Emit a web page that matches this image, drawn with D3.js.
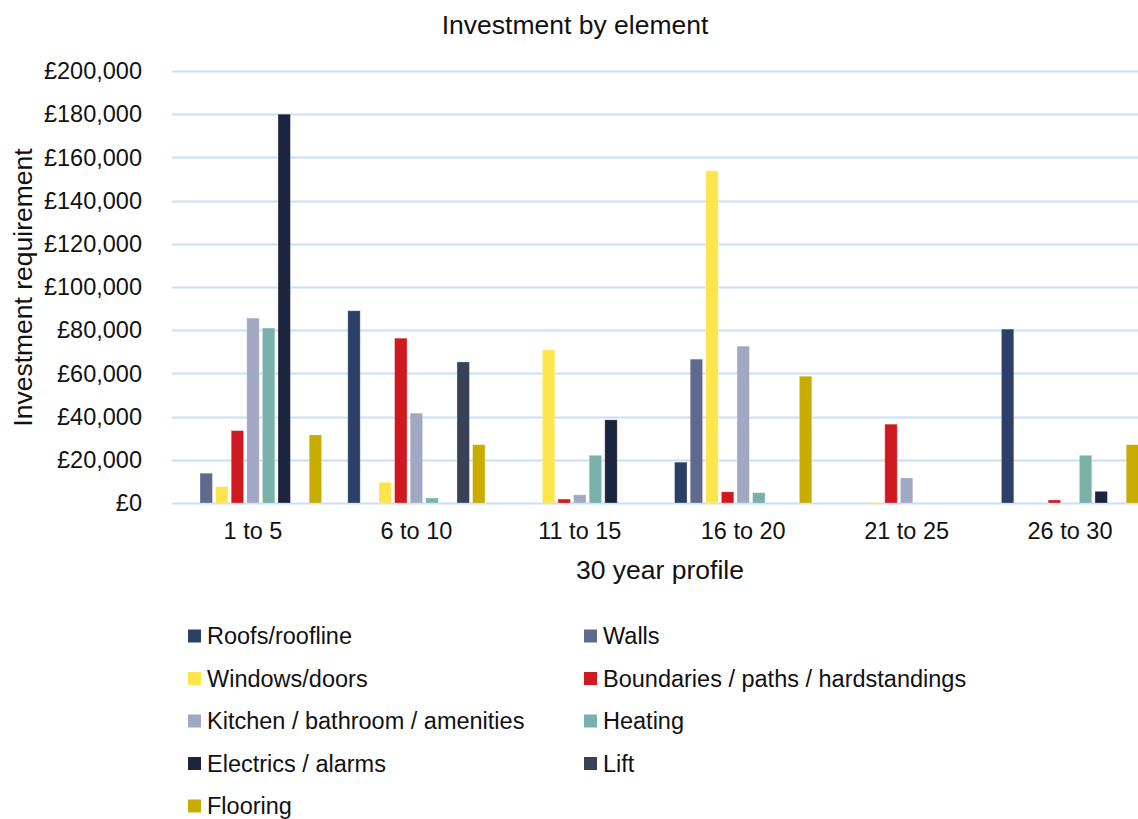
<!DOCTYPE html>
<html>
<head>
<meta charset="utf-8">
<script src="https://cdn.jsdelivr.net/npm/d3@7"></script>
<style>
  body { margin: 0; background: #fff; }
  svg { display: block; font-family: "Liberation Sans", Arial, sans-serif; }
</style>
</head>
<body>
<div id="content"></div>
<script>
// dimensiones
var width = 1138;
var height = 819;

// datos
var periods = ["1 to 5", "6 to 10", "11 to 15", "16 to 20", "21 to 25", "26 to 30"];
var elements = ["Roofs/roofline", "Walls", "Windows/doors", "Boundaries / paths / hardstandings",
  "Kitchen / bathroom / amenities", "Heating", "Electrics / alarms", "Lift", "Flooring"];
var colours = ["#2c3f67", "#5f6a8d", "#ffe54c", "#d0191f", "#a2a7c3", "#79b2a8", "#1c253f", "#3a4156", "#c8ad00"];

var roofs      = [0, 89000, 0, 18900, 0, 80500];
var walls      = [13800, 0, 0, 66600, 0, 0];
var windows    = [7600, 9600, 70900, 153800, 300, 0];
var boundaries = [33500, 76300, 1800, 5200, 36500, 1400];
var kitchen    = [85600, 41600, 3800, 72600, 11600, 0];
var heating    = [81000, 2300, 22100, 4800, 0, 22100];
var electrics  = [180000, 0, 38500, 0, 0, 5400];
var lift       = [0, 65300, 0, 0, 0, 0];
var flooring   = [31500, 27000, 0, 58700, 0, 27000];

var yTicks = [0, 20000, 40000, 60000, 80000, 100000, 120000, 140000, 160000, 180000, 200000];

var seriesValues = [roofs, walls, windows, boundaries, kitchen, heating, electrics, lift, flooring];

var rows = [];
periods.forEach(function(p, i) {
  elements.forEach(function(e, j) {
    rows.push({ period: p, element: e, value: seriesValues[j][i], colour: colours[j] });
  });
});

var svg = d3.select("#content")
  .append("svg")
  .attr("width", width)
  .attr("height", height);

var x0 = d3.scaleBand()
  .domain(periods)
  .range([171.3, 1151.7])
  .padding(0);

var x1 = d3.scaleBand()
  .domain(elements)
  .range([0, x0.bandwidth()])
  .paddingInner(0.205)
  .paddingOuter(0.84);

var y = d3.scaleLinear()
  .domain([0, 200000])
  .range([503, 71]);

var fmt = function(d) { return "£" + d3.format(",")(d); };

// gridlines
svg.append("g")
  .selectAll("line")
  .data(yTicks)
  .enter().append("line")
  .attr("x1", 172)
  .attr("x2", width)
  .attr("y1", function(d) { return Math.round(y(d)) + 0.5; })
  .attr("y2", function(d) { return Math.round(y(d)) + 0.5; })
  .attr("stroke", "#c6e0f7")
  .attr("stroke-width", 2);

// y tick labels
svg.append("g")
  .selectAll("text")
  .data(yTicks)
  .enter().append("text")
  .attr("x", 142)
  .attr("y", function(d) { return y(d); })
  .attr("dy", "0.35em")
  .attr("text-anchor", "end")
  .style("font-size", "23.5px")
  .style("fill", "#111")
  .text(fmt);

// bars
svg.append("g")
  .selectAll("rect")
  .data(rows.filter(function(d) { return d.value > 0; }))
  .enter().append("rect")
  .attr("x", function(d) { return x0(d.period) + x1(d.element); })
  .attr("width", x1.bandwidth())
  .attr("y", function(d) { return y(d.value); })
  .attr("height", function(d) { return y(0) - y(d.value); })
  .attr("fill", function(d) { return d.colour; })
  .attr("stroke", "#ffffff")
  .attr("stroke-opacity", 0.35)
  .attr("stroke-width", 0.8);

// x tick labels
svg.append("g")
  .selectAll("text")
  .data(periods)
  .enter().append("text")
  .attr("x", function(d) { return x0(d) + x0.bandwidth() / 2; })
  .attr("y", 539)
  .attr("text-anchor", "middle")
  .style("font-size", "23.5px")
  .style("fill", "#111")
  .text(function(d) { return d; });

// titulos
svg.append("text")
  .attr("x", 575)
  .attr("y", 34)
  .attr("text-anchor", "middle")
  .style("font-size", "26.5px")
  .style("fill", "#111")
  .text("Investment by element");

svg.append("text")
  .attr("x", 660)
  .attr("y", 579)
  .attr("text-anchor", "middle")
  .style("font-size", "26.5px")
  .style("fill", "#111")
  .text("30 year profile");

svg.append("text")
  .attr("transform", "translate(31.5,287.5) rotate(-90)")
  .attr("text-anchor", "middle")
  .style("font-size", "26.5px")
  .style("fill", "#111")
  .text("Investment requirement");

// leyenda
var legend = svg.append("g")
  .selectAll("g")
  .data(elements)
  .enter().append("g")
  .attr("transform", function(d, i) {
    var col = i % 2, row = Math.floor(i / 2);
    return "translate(" + (col === 0 ? 188 : 584) + "," + (636 + row * 42.5) + ")";
  });

legend.append("rect")
  .attr("x", 0)
  .attr("y", -6.5)
  .attr("width", 13)
  .attr("height", 13)
  .attr("fill", function(d, i) { return colours[i]; });

legend.append("text")
  .attr("x", 19)
  .attr("y", 0)
  .attr("dy", "0.35em")
  .style("font-size", "23.5px")
  .style("fill", "#111")
  .text(function(d) { return d; });
</script>
</body>
</html>
